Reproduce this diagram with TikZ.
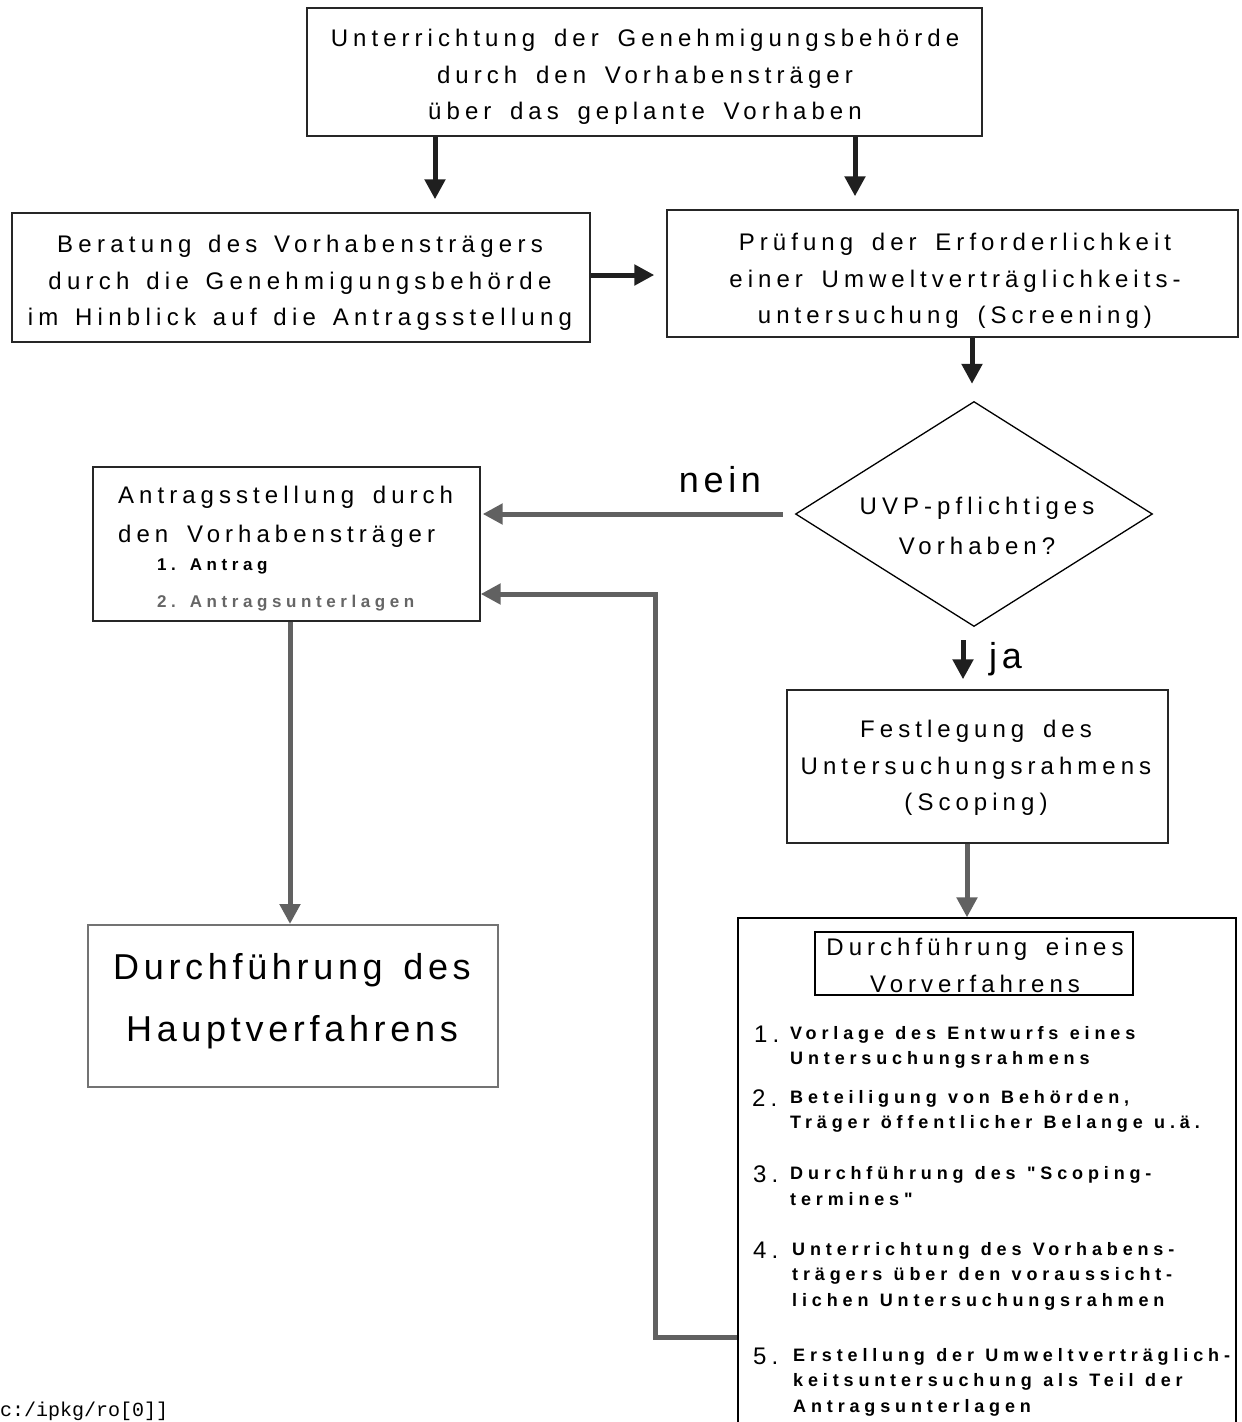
\documentclass[tikz,border=0pt]{standalone}
\usepackage{fontspec}
\setmainfont{Liberation Sans}
\newfontfamily\spfont[LetterSpace=21,WordSpace=1.6]{Liberation Sans}
\newfontfamily\spwfont[LetterSpace=22,WordSpace=1.4]{Liberation Sans}
\newfontfamily\itemfont[LetterSpace=27,WordSpace=1.15]{Liberation Sans}
\newfontfamily\bigfont[LetterSpace=13,WordSpace=1.4]{Liberation Sans}
\newfontfamily\codefont{Liberation Mono}
\usetikzlibrary{arrows.meta,shapes.geometric}
\begin{document}
\begin{tikzpicture}[x=1pt,y=-1pt,
  boxline/.style={draw=black!85,line width=1.4pt,inner sep=0pt},
  maintxt/.style={inner sep=0pt,align=center,font=\spfont\fontsize{24}{36.5}\selectfont},
  itemtxt/.style={inner sep=0pt,anchor=base west,font=\itemfont\bfseries\fontsize{18}{25}\selectfont},
  numtxt/.style={inner sep=0pt,anchor=base west,font=\spfont\fontsize{24}{25}\selectfont},
  blk/.style={-{Triangle[length=20pt,width=20pt]},line width=5pt,draw=black!88},
  gry/.style={-{Triangle[length=20pt,width=20pt]},line width=5pt,draw=black!62},
]
\fill[white] (0,0) rectangle (1242,1422);
\clip (0,0) rectangle (1242,1422);

% boxes
\node[boxline,minimum width=675pt,minimum height=128pt] (top) at (644.5,72) {};
\node[maintxt] (toptxt) at (645,77) {Unterrichtung der Genehmigungsbehörde\\durch den Vorhabensträger\\über das geplante Vorhaben};

\node[boxline,minimum width=578pt,minimum height=129pt] (ber) at (301,277.5) {};
\node[maintxt,font=\spwfont\fontsize{24}{36.5}\selectfont] (bertxt) at (300,283) {Beratung des Vorhabensträgers\\durch die Genehmigungsbehörde\\im Hinblick auf die Antragsstellung};

\node[boxline,minimum width=571pt,minimum height=127pt] (pru) at (952.5,273.5) {};
\node[maintxt] (prutxt) at (955,281) {Prüfung der Erforderlichkeit\\einer Umweltverträglichkeits-\\untersuchung (Screening)};

\node[draw=black,line width=1.3pt,diamond,inner sep=0pt,minimum width=357pt,minimum height=225pt] (uvp) at (974,514) {};
\node[maintxt,font=\spfont\fontsize{24}{40}\selectfont] (uvptxt) at (977,526) {UVP-pflichtiges\\Vorhaben?};

\node[boxline,minimum width=387pt,minimum height=154pt] (ant) at (286.5,544) {};
\node[inner sep=0pt,anchor=base west,font=\spfont\fontsize{24}{36}\selectfont] (ant1) at (118,503) {Antragsstellung durch};
\node[inner sep=0pt,anchor=base west,font=\spfont\fontsize{24}{36}\selectfont] (ant2) at (118,542) {den Vorhabensträger};
\node[itemtxt,font=\itemfont\bfseries\fontsize{17}{25}\selectfont] (ant3) at (157,570) {1. Antrag};
\node[itemtxt,font=\itemfont\bfseries\fontsize{17}{25}\selectfont,text=black!60] (ant4) at (157,607) {2. Antragsunterlagen};

\node[draw=black!55,line width=2pt,inner sep=0pt,minimum width=410pt,minimum height=162pt] (haupt) at (293,1006) {};
\node[inner sep=0pt,align=center,font=\bigfont\fontsize{36}{62}\selectfont] (haupttxt) at (292,1001) {Durchführung des\\Hauptverfahrens};

\node[boxline,minimum width=381pt,minimum height=153pt] (fest) at (977.5,766.5) {};
\node[maintxt] (festtxt) at (976,768) {Festlegung des\\Untersuchungsrahmens\\(Scoping)};

\node[draw=black,line width=1.3pt,inner sep=0pt,minimum width=498pt,minimum height=520pt] (vor) at (987,1178) {};
\node[draw=black,line width=1.3pt,inner sep=0pt,minimum width=318pt,minimum height=63pt] (vortitle) at (974,963.5) {};
\node[maintxt,font=\spfont\fontsize{24}{37}\selectfont] (vortitletxt) at (975,965) {Durchführung eines\\Vorverfahrens};

% items
\node[numtxt] (n1) at (754,1042) {1.};
\node[itemtxt] (i1a) at (790,1039) {Vorlage des Entwurfs eines};
\node[itemtxt] (i1b) at (790,1064) {Untersuchungsrahmens};
\node[numtxt] (n2) at (752,1106) {2.};
\node[itemtxt] (i2a) at (790,1103) {Beteiligung von Behörden,};
\node[itemtxt] (i2b) at (790,1128) {Träger öffentlicher Belange u.ä.};
\node[numtxt] (n3) at (753,1182) {3.};
\node[itemtxt] (i3a) at (790,1179) {Durchführung des "Scoping-};
\node[itemtxt] (i3b) at (790,1205) {termines"};
\node[numtxt] (n4) at (753,1258) {4.};
\node[itemtxt] (i4a) at (792,1255) {Unterrichtung des Vorhabens-};
\node[itemtxt] (i4b) at (792,1280) {trägers über den voraussicht-};
\node[itemtxt] (i4c) at (792,1306) {lichen Untersuchungsrahmen};
\node[numtxt] (n5) at (753,1364) {5.};
\node[itemtxt] (i5a) at (793,1361) {Erstellung der Umweltverträglich-};
\node[itemtxt] (i5b) at (793,1386) {keitsuntersuchung als Teil der};
\node[itemtxt] (i5c) at (793,1412) {Antragsunterlagen};

% labels
\node[inner sep=0pt,font=\bigfont\fontsize{36}{40}\selectfont] (nein) at (720,480) {nein};
\node[inner sep=0pt,anchor=base west,font=\bigfont\fontsize{36}{40}\selectfont] (ja) at (989,668) {ja};
\node[inner sep=0pt,anchor=base west,font=\codefont\fontsize{20}{24}\selectfont] (code) at (0,1416) {c:/ipkg/ro[0]]};

% connectors
\draw[blk,shorten >=13pt] ([xshift=-209.5pt]top.south) -- ([xshift=134pt]ber.north);
\draw[blk,shorten >=13pt] ([xshift=210.5pt]top.south) -- ([xshift=-97.5pt]pru.north);
\draw[blk,shorten >=12pt] (ber.east |- 0,275) -- (pru.west |- 0,275);
\draw[blk,shorten >=17pt] (pru.south -| 972,0) -- (uvp.north -| 972,0);
\draw[gry,shorten <=12pt,shorten >=2pt] (uvp.west) -- (ant.east |- uvp.west);
\draw[blk,shorten <=13pt,shorten >=10pt] (uvp.south -| 963,0) -- (fest.north -| 963,0);
\draw[gry] (ant.south -| 290,0) -- (haupt.north -| 290,0);
\draw[gry] (fest.south -| 967,0) -- (vor.north -| 967,0);
\coordinate (fbA) at (655,1337);
\coordinate (fbB) at (655,594);
\draw[gry,line join=miter] (vor.west |- fbA) -- (fbA) -- (fbB) -- (ant.east |- fbB);
\end{tikzpicture}
\end{document}
